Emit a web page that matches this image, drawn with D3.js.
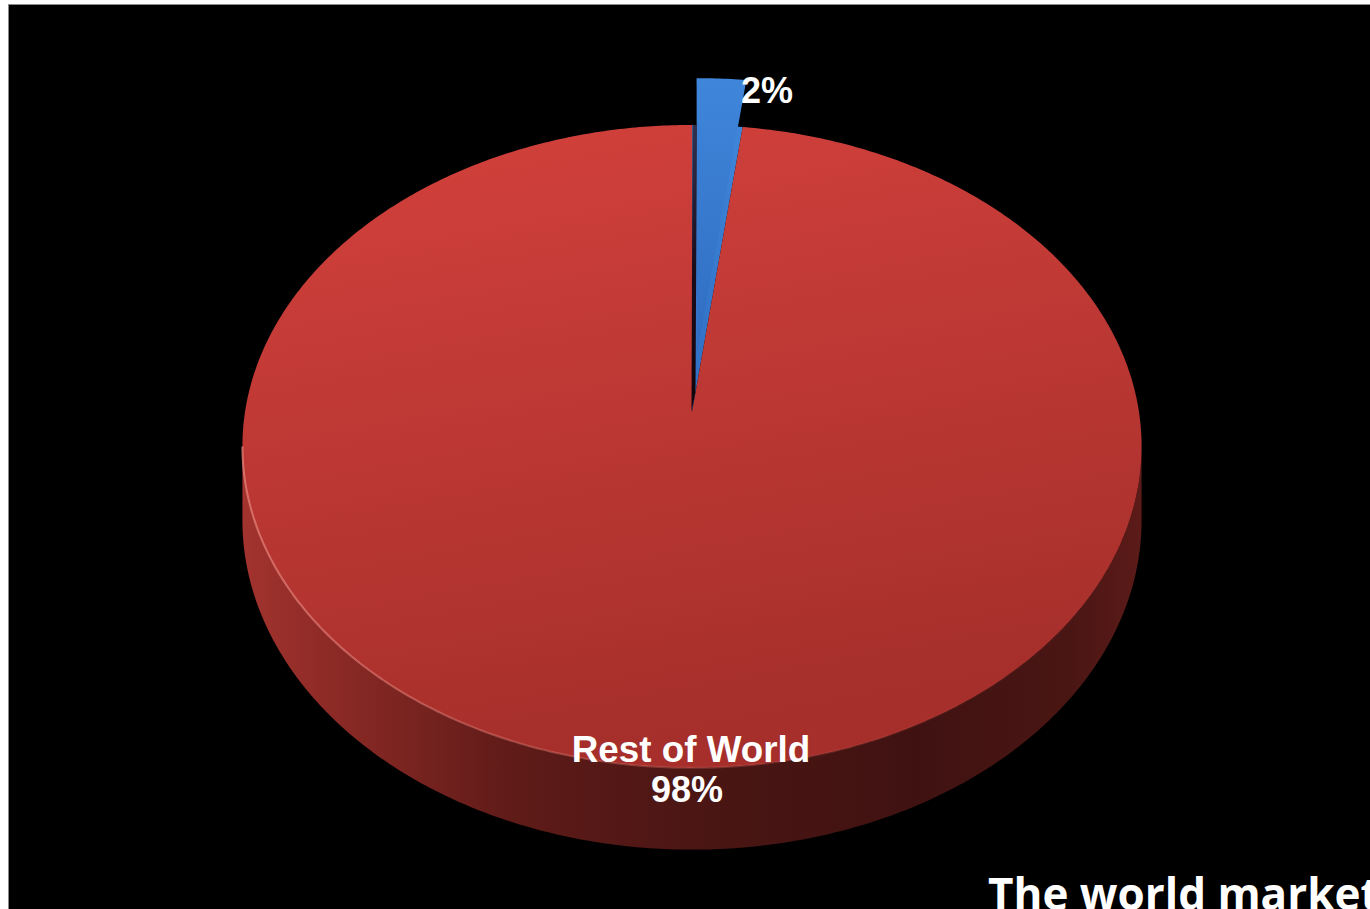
<!DOCTYPE html>
<html>
<head>
<meta charset="utf-8">
<script src="https://cdn.jsdelivr.net/npm/d3@7/dist/d3.min.js"></script>
<style>
  html, body { margin: 0; padding: 0; background: #ffffff; overflow: hidden; }
  svg { display: block; }
</style>
</head>
<body>
<svg id="chart" width="1370" height="909"></svg>
<script>
// Slice data: one highlighted share and the remainder
const categories = ["Highlighted", "Rest of World"];
const shares = [2, 98];
const showName = [false, true];
const explodeBy = [0.184, 0];
const titleText = "The world market";

const W = 1370, H = 909;
const svg = d3.select("#chart");

// Frame: white margin on top/left, black panel
svg.append("rect").attr("x", 0).attr("y", 0).attr("width", W).attr("height", H).attr("fill", "#ffffff");
svg.append("rect").attr("x", 8.5).attr("y", 4.5).attr("width", W).attr("height", H)
  .attr("fill", "#000000").attr("stroke", "#8a8a8a").attr("stroke-width", 1);

// Perspective projection of the disc (theta measured clockwise from the far side)
const cx = 692, cy = 412, A = 447, B = 317.8, k = 0.107, depth = 73;
function proj(theta, r, drop, off) {
  const ox = off ? off[0] : 0, oz = off ? off[1] : 0;
  const X = r * Math.sin(theta) + ox;
  const Z = r * Math.cos(theta) + oz;
  const w = 1 + k * Z;
  return [cx + A * X / w, cy + (-B * Z + drop) / w];
}
function arcPts(a0, a1, r, drop, off) {
  const n = Math.max(2, Math.ceil(Math.abs(a1 - a0) / 0.01));
  return d3.range(n + 1).map(i => proj(a0 + (a1 - a0) * i / n, r, drop, off));
}
const line = d3.line().curve(d3.curveLinear);
function wedgePath(a0, a1, off) {
  const pts = [proj(0, 0, 0, off)].concat(arcPts(a0, a1, 1, 0, off));
  return line(pts) + "Z";
}

const pie = d3.pie().sort(null).value(d => d)(shares);

const defs = svg.append("defs");
const topGrad = defs.append("linearGradient").attr("id", "topFace")
  .attr("x1", 0).attr("y1", 0).attr("x2", 0.25).attr("y2", 1);
topGrad.append("stop").attr("offset", 0).attr("stop-color", "#d4413c");
topGrad.append("stop").attr("offset", 0.5).attr("stop-color", "#bd3834");
topGrad.append("stop").attr("offset", 1).attr("stop-color", "#a62f2b");

const sideGrad = defs.append("linearGradient").attr("id", "sideFace")
  .attr("gradientUnits", "userSpaceOnUse").attr("x1", 242).attr("y1", 0).attr("x2", 1143).attr("y2", 0);
[[0, "#a3332e"], [0.1, "#8c2a26"], [0.3, "#5f1b18"], [0.5, "#4b1614"],
 [0.75, "#3f1211"], [0.92, "#4a1614"], [1, "#5c1b18"]].forEach(s =>
  sideGrad.append("stop").attr("offset", s[0]).attr("stop-color", s[1]));

const blueGrad = defs.append("linearGradient").attr("id", "blueFace")
  .attr("x1", 0).attr("y1", 0).attr("x2", 0).attr("y2", 1);
blueGrad.append("stop").attr("offset", 0).attr("stop-color", "#3f86da");
blueGrad.append("stop").attr("offset", 1).attr("stop-color", "#2f6dc2");

const rimGrad = defs.append("linearGradient").attr("id", "rim")
  .attr("gradientUnits", "userSpaceOnUse").attr("x1", 242).attr("y1", 0).attr("x2", 1143).attr("y2", 0);
rimGrad.append("stop").attr("offset", 0).attr("stop-color", "#f08a82").attr("stop-opacity", 0.7);
rimGrad.append("stop").attr("offset", 0.45).attr("stop-color", "#e0736b").attr("stop-opacity", 0.35);
rimGrad.append("stop").attr("offset", 0.8).attr("stop-color", "#c0504a").attr("stop-opacity", 0.1);
rimGrad.append("stop").attr("offset", 1).attr("stop-color", "#c0504a").attr("stop-opacity", 0);

const gapGrad = defs.append("linearGradient").attr("id", "gapLine")
  .attr("x1", 0).attr("y1", 0).attr("x2", 0).attr("y2", 1);
gapGrad.append("stop").attr("offset", 0).attr("stop-color", "#2a0c14").attr("stop-opacity", 0.7);
gapGrad.append("stop").attr("offset", 0.5).attr("stop-color", "#1a0610").attr("stop-opacity", 0.95);
gapGrad.append("stop").attr("offset", 1).attr("stop-color", "#12040a").attr("stop-opacity", 1);

const fills = ["url(#blueFace)", "url(#topFace)"];
const g = svg.append("g");

// Exploded slices drawn first (they sit behind the main disc)
pie.forEach((d, i) => {
  if (explodeBy[i] <= 0) return;
  const mid = (d.startAngle + d.endAngle) / 2;
  const off = [explodeBy[i] * Math.sin(mid), explodeBy[i] * Math.cos(mid)];
  // part seen through the opening left in the disc
  g.append("path").attr("d", wedgePath(d.startAngle, d.endAngle, null)).attr("fill", fills[i]);
  g.append("path").attr("d", wedgePath(d.startAngle, d.endAngle, off)).attr("fill", fills[i]);
});

// Main slices: front wall, then top face
pie.forEach((d, i) => {
  if (explodeBy[i] > 0) return;
  const aR = Math.acos(-k), aL = 2 * Math.PI - aR;
  const a0 = Math.max(d.startAngle, aR), a1 = Math.min(d.endAngle, aL);
  if (a1 > a0) {
    const pts = arcPts(a0, a1, 1, 0).concat(arcPts(a1, a0, 1, depth));
    g.append("path").attr("d", line(pts) + "Z").attr("fill", "url(#sideFace)");
  }
  g.append("path").attr("d", wedgePath(d.startAngle, d.endAngle, null)).attr("fill", fills[i]);
  if (a1 > a0) {
    g.append("path").attr("d", line(arcPts(a0, a1, 1, 0))).attr("fill", "none")
      .attr("stroke", "url(#rim)").attr("stroke-width", 2);
  }
  // shadowed cut edge where the disc opens
  if (d.startAngle > 0) {
    const p0 = proj(0, 0, 0), p1 = proj(2 * Math.PI, 1, 0);
    g.append("path")
      .attr("d", `M${p0[0] - 0.5},${p0[1]}L${p1[0] + 0.5},${p1[1]}L${p1[0] + 5},${p1[1]}L${p0[0] + 3.5},${p0[1] - 20}Z`)
      .attr("fill", "url(#gapLine)");
  }
});

// Data labels
const lbl = svg.append("g").attr("font-family", "'Liberation Sans', Arial, sans-serif")
  .attr("font-weight", "bold").attr("fill", "#ffffff");
pie.forEach((d, i) => {
  const pct = shares[i] + "%";
  if (showName[i]) {
    lbl.append("text").attr("x", cx - 1).attr("y", 762).attr("font-size", 36.8)
      .attr("text-anchor", "middle").text(categories[i]);
    lbl.append("text").attr("x", cx - 5).attr("y", 802).attr("font-size", 36)
      .attr("text-anchor", "middle").text(pct);
  } else {
    lbl.append("text").attr("x", cx + 49).attr("y", 103).attr("font-size", 36)
      .attr("text-anchor", "start").text(pct);
  }
});

// Caption (runs off the right edge of the panel)
svg.append("text").attr("x", 988).attr("y", 910)
  .attr("font-family", "'Open Sans', sans-serif").attr("font-weight", "bold")
  .attr("font-size", 44).attr("fill", "#ffffff").text(titleText);
</script>
</body>
</html>
